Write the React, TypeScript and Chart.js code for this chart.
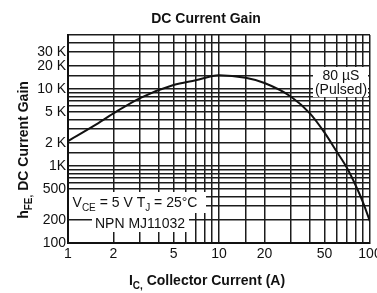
import React, { useEffect, useRef } from "react";
import { Chart, registerables } from "chart.js";

Chart.register(...registerables);

const current = [1, 1.5, 2, 3, 5, 7, 10, 15, 20, 30, 40, 50, 60, 70, 80, 90, 100];
const gain = [2100, 3350, 4800, 7600, 11200, 12900, 15000, 13900, 11900, 7900, 4800, 2700, 1550, 960, 570, 335, 190];

const xTickLabels = [1, 2, 5, 10, 20, 50, 100];
const yTickValues = [100, 200, 500, 1000, 2000, 5000, 10000, 20000, 30000];
const yTickLabels = ["100", "200", "500", "1K", "2 K", "5 K", "10 K", "20 K", "30 K"];

const chartTitle = "DC Current Gain";
const pulseNote = ["80 µS", "(Pulsed)"];
const partNote = "NPN MJ11032";

const FONT = '"Liberation Sans", Arial, sans-serif';

type Part = { t: string; sub?: boolean };

function drawRich(ctx: CanvasRenderingContext2D, parts: Part[], cx: number, cy: number, size: number, bold: boolean) {
  const w = bold ? "bold " : "";
  const main = `${w}${size}px ${FONT}`;
  const sub = `${w}${Math.round(size * 0.72)}px ${FONT}`;
  let total = 0;
  for (const p of parts) {
    ctx.font = p.sub ? sub : main;
    total += ctx.measureText(p.t).width;
  }
  let x = cx - total / 2;
  const base = cy + size * 0.36;
  ctx.textAlign = "left";
  ctx.textBaseline = "alphabetic";
  for (const p of parts) {
    ctx.font = p.sub ? sub : main;
    ctx.fillText(p.t, x, p.sub ? base + size * 0.28 : base);
    x += ctx.measureText(p.t).width;
  }
}

const textPlugin = {
  id: "textPlugin",
  afterDraw(chart: any) {
    const ctx: CanvasRenderingContext2D = chart.ctx;
    ctx.save();
    ctx.fillStyle = "#111";
    // title
    drawRich(ctx, [{ t: chartTitle }], 206, 18, 14, true);
    // x title
    drawRich(ctx, [{ t: "I" }, { t: "C,", sub: true }, { t: " Collector Current (A)" }], 207, 280, 14, true);
    // y title
    ctx.save();
    ctx.translate(23, 150);
    ctx.rotate(-Math.PI / 2);
    drawRich(ctx, [{ t: "h" }, { t: "FE,", sub: true }, { t: " DC Current Gain" }], 0, 0, 14, true);
    ctx.restore();
    // note boxes
    ctx.fillStyle = "#fff";
    ctx.fillRect(313, 67, 55, 30);
    ctx.fillRect(69, 192, 137, 21);
    ctx.fillRect(92, 213, 97, 19);
    ctx.fillStyle = "#111";
    drawRich(ctx, [{ t: pulseNote[0] }], 341, 75, 14, false);
    drawRich(ctx, [{ t: pulseNote[1] }], 341, 89, 14, false);
    drawRich(
      ctx,
      [{ t: "V" }, { t: "CE", sub: true }, { t: " = 5 V T" }, { t: "J", sub: true }, { t: " = 25°C" }],
      135,
      202,
      14,
      false
    );
    drawRich(ctx, [{ t: partNote }], 140, 223, 14, false);
    ctx.restore();
  },
};

export default function App() {
  const ref = useRef<HTMLCanvasElement>(null);
  useEffect(() => {
    const gridColor = "#1c1c1c";
    const chart = new Chart(ref.current as HTMLCanvasElement, {
      type: "line",
      data: {
        datasets: [
          {
            data: current.map((c, i) => ({ x: c, y: gain[i] })),
            borderColor: "#111",
            borderWidth: 2,
            pointRadius: 0,
            tension: 0.4,
            cubicInterpolationMode: "monotone",
            fill: false,
          },
        ],
      },
      options: {
        responsive: false,
        animation: false,
        layout: { padding: { top: 35, right: 7, left: 0, bottom: 0 } },
        plugins: { legend: { display: false }, title: { display: false }, tooltip: { enabled: false } },
        scales: {
          x: {
            type: "logarithmic",
            min: 1,
            max: 100,
            afterFit: (s: any) => {
              s.height = 50;
              s.paddingLeft = 0;
              s.paddingRight = 0;
            },
            grid: { color: gridColor, lineWidth: 1.5, drawTicks: false, tickLength: 0 },
            border: { display: true, color: "#111", width: 2 },
            ticks: {
              autoSkip: false,
              maxRotation: 0,
              padding: 3,
              color: "#111",
              font: { family: FONT, size: 14 },
              callback: (v: any) => {
                const r = Math.round(Number(v) * 1000) / 1000;
                return xTickLabels.includes(r) ? String(r) : "";
              },
            },
          },
          y: {
            type: "logarithmic",
            min: 100,
            max: 50000,
            afterFit: (s: any) => {
              s.width = 68;
              s.paddingTop = 0;
              s.paddingBottom = 0;
            },
            grid: { color: gridColor, lineWidth: 1.5, drawTicks: false, tickLength: 0 },
            border: { display: true, color: "#111", width: 2 },
            ticks: {
              autoSkip: false,
              padding: 2,
              color: "#111",
              font: { family: FONT, size: 14 },
              callback: (v: any) => {
                const r = Math.round(Number(v));
                const i = yTickValues.indexOf(r);
                return i >= 0 ? yTickLabels[i] : "";
              },
            },
          },
        },
      },
      plugins: [textPlugin],
    } as any);
    return () => chart.destroy();
  }, []);
  return (
    <div style={{ position: "fixed", left: 0, top: 0, width: 377, height: 293, background: "#fff" }}>
      <canvas ref={ref} width={377} height={293} />
    </div>
  );
}
